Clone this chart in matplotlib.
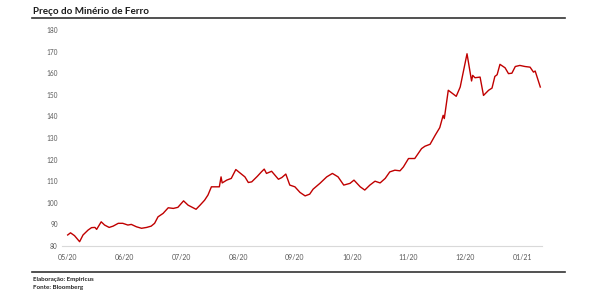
import matplotlib
matplotlib.use("Agg")
import matplotlib.pyplot as plt
from matplotlib.lines import Line2D

plt.rcParams['font.family'] = ['Lato', 'DejaVu Sans']

title = "Preço do Minério de Ferro"
source_lines = ["Elaboração: Empiricus", "Fonte: Bloomberg"]
tick_labels = ["05/20", "06/20", "07/20", "08/20", "09/20", "10/20", "11/20", "12/20", "01/21"]
y_ticks = [80, 90, 100, 110, 120, 130, 140, 150, 160, 170, 180]

# time in months since May 2020
months = [0.00, 0.05, 0.12, 0.21, 0.27, 0.36, 0.42, 0.48, 0.51, 0.59,
          0.65, 0.73, 0.80, 0.89, 0.97, 1.06, 1.12, 1.21, 1.30, 1.39,
          1.47, 1.53, 1.59, 1.68, 1.77, 1.86, 1.94, 2.04, 2.12, 2.26,
          2.33, 2.41, 2.47, 2.53, 2.59, 2.67, 2.70, 2.72, 2.80, 2.88,
          2.96, 3.03, 3.12, 3.18, 3.24, 3.34, 3.41, 3.46, 3.50, 3.59,
          3.71, 3.77, 3.84, 3.91, 4.00, 4.09, 4.18, 4.26, 4.32, 4.44,
          4.56, 4.66, 4.76, 4.86, 4.97, 5.04, 5.15, 5.23, 5.32, 5.41,
          5.50, 5.59, 5.67, 5.76, 5.85, 5.91, 6.00, 6.11, 6.17, 6.23,
          6.29, 6.38, 6.47, 6.55, 6.61, 6.63, 6.70, 6.78, 6.84, 6.91,
          7.03, 7.11, 7.13, 7.17, 7.26, 7.32, 7.41, 7.47, 7.52, 7.56,
          7.61, 7.70, 7.76, 7.82, 7.88, 7.96, 8.05, 8.14, 8.20, 8.23,
          8.32]
price = [85.1, 86.1, 84.8, 82.0, 85.1, 87.4, 88.5, 88.6, 87.7, 91.2,
         89.7, 88.6, 89.2, 90.5, 90.5, 89.7, 90.0, 88.9, 88.2, 88.6,
         89.2, 90.5, 93.5, 95.1, 97.7, 97.4, 97.9, 100.9, 98.9, 97.0,
         98.9, 101.2, 103.6, 107.4, 107.4, 107.4, 112.0, 109.2, 110.5, 111.3,
         115.4, 113.9, 112.0, 109.4, 109.7, 112.3, 114.3, 115.6, 113.6, 114.6,
         110.9, 111.7, 113.3, 108.2, 107.4, 104.8, 103.2, 104.0, 106.3, 109.0,
         112.0, 113.6, 112.0, 108.2, 109.0, 110.5, 107.4, 105.9, 108.2, 110.0,
         109.2, 111.3, 114.3, 115.1, 114.8, 116.6, 120.5, 120.5, 122.8, 125.1,
         126.2, 127.1, 131.3, 134.8, 140.5, 139.0, 152.1, 150.5, 149.3, 153.6,
         169.0, 156.4, 159.0, 157.9, 158.2, 149.7, 152.1, 153.1, 158.5, 159.3,
         164.1, 162.5, 159.8, 160.0, 163.1, 163.6, 163.1, 162.8, 160.5, 161.0,
         153.6]

W, H = 600, 300
fig = plt.figure(figsize=(6, 3), dpi=100)
ax = fig.add_axes([62 / W, 1 - 246 / H, (542 - 62) / W, (246 - 30) / H])

ax.plot(months, price, color="#C00000", lw=1.0, solid_joinstyle="round")
ax.set_xlim(-0.1, 8.35)
ax.set_ylim(80, 180)
ax.set_yticks(y_ticks)
ax.set_xticks(range(len(tick_labels)))
ax.set_xticklabels(tick_labels)

for s in ["top", "right", "left"]:
    ax.spines[s].set_visible(False)
ax.spines["bottom"].set_color("#D9D9D9")
ax.spines["bottom"].set_linewidth(0.8)
ax.tick_params(axis="both", length=0, colors="#595959")
ax.tick_params(axis="y", labelsize=4.7, pad=3)
ax.tick_params(axis="x", labelsize=5, pad=6)

# title and frame lines
fig.text(33 / W, 1 - 11 / H, title, fontsize=7.1, fontweight="bold",
         color="#1a1a1a", ha="left", va="center")
fig.add_artist(Line2D([32 / W, 565 / W], [1 - 17.5 / H] * 2, color="#333333", lw=1.2))
fig.add_artist(Line2D([32 / W, 565 / W], [1 - 272 / H] * 2, color="#333333", lw=1.2))
fig.text(33 / W, 1 - 279 / H, source_lines[0], fontsize=4.5, fontweight="bold",
         color="#262626", ha="left", va="center")
fig.text(33 / W, 1 - 288 / H, source_lines[1], fontsize=4.5, fontweight="bold",
         color="#262626", ha="left", va="center")

fig.savefig("out.png", dpi=100, facecolor="white")
